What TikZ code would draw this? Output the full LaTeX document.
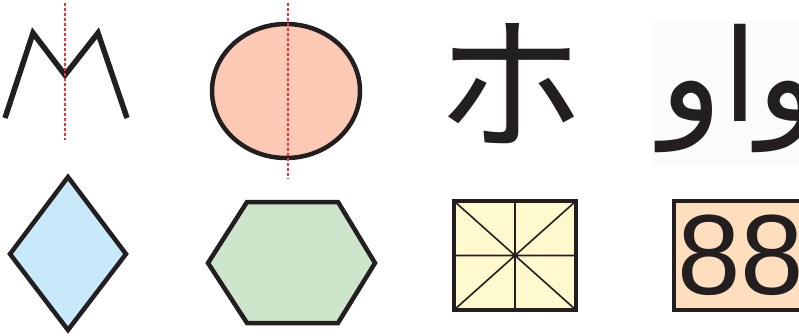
\documentclass[tikz,border=0pt]{standalone}
\usepackage{fontspec}
\newfontfamily\cjkfont{Noto Sans CJK JP}
\newfontfamily\arabicfont[Script=Arabic]{DejaVu Sans}
\newfontfamily\digitfont{Liberation Sans}
\TeXXeTstate=1
\usetikzlibrary{positioning}
\definecolor{sink}{HTML}{231F20}
\definecolor{saxis}{HTML}{E8333C}
\definecolor{speach}{HTML}{FBC9B4}
\definecolor{sblue}{HTML}{C7E9F9}
\definecolor{sgreen}{HTML}{CDE6CB}
\definecolor{syellow}{HTML}{FFF9CD}
\definecolor{sorange}{HTML}{FFDEBD}
\definecolor{spaper}{HTML}{FBFBFB}
\tikzset{
  shp/.style={draw=sink,line width=4.5pt,line join=miter},
  axis line/.style={draw=saxis,line width=1.3pt,dash pattern=on 3pt off 2pt},
  thin/.style={draw=sink,line width=1.6pt},
  glyph/.style={text=sink,inner sep=0pt},
}
\begin{document}
\begin{tikzpicture}[x=1pt,y=-1pt]
  \clip (0,0) rectangle (799,335);
  % row 1: symmetric shapes
  \draw[sink,line width=5.5pt,line join=miter] (5,118) -- (33,33) -- (65,75) -- (98,33) -- (127,118);
  \draw[axis line] (65,3) -- (65,140);
  \draw[shp,fill=speach] (286,91) ellipse [x radius=74,y radius=67];
  \draw[axis line] (288,3) -- (288,179);
  \node[glyph,font=\cjkfont\fontsize{148}{148}\selectfont] (ho) at (510,84) {ホ};
  \fill[spaper] (653,20) rectangle (799,166);
  \node[glyph,anchor=west,font=\arabicfont\fontsize{128}{128}\selectfont] (waw) at (660,88) {\beginR واو\endR};
  % row 2: filled shapes
  \draw[shp,fill=sblue] (68,177) -- (126,254) -- (68,330) -- (10,254) -- cycle;
  \draw[shp,fill=sgreen] (247,202) -- (338,202) -- (375,263) -- (338,323) -- (247,323) -- (208,263) -- cycle;
  \fill[syellow] (454,201) rectangle (576,310);
  \draw[thin] (454,201) -- (576,310) (576,201) -- (454,310) (515,201) -- (515,310) (454,255.5) -- (576,255.5);
  \draw[shp] (454,201) rectangle (576,310);
  \draw[shp,fill=sorange] (674,201) rectangle (820,310);
  \node[glyph,anchor=west,font=\digitfont\fontsize{114}{114}\selectfont] (num) at (677,255) {88};
\end{tikzpicture}
\end{document}
